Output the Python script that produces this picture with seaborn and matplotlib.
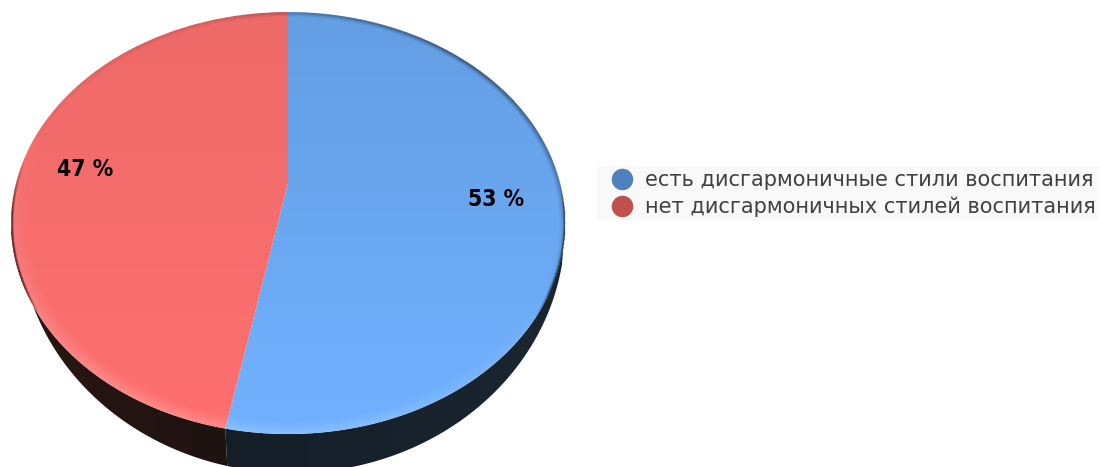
import numpy as np
import matplotlib
matplotlib.use("Agg")
import matplotlib.pyplot as plt
import seaborn as sns
from matplotlib.colors import LinearSegmentedColormap
from matplotlib.lines import Line2D
from matplotlib.patches import Polygon
from matplotlib.transforms import Transform

# Chart content
categories = ["есть дисгармоничные стили воспитания", "нет дисгармоничных стилей воспитания"]
values = [53, 47]
value_labels = ["53 %", "47 %"]
legend_colors = ["#4f81bd", "#c0504d"]
face_top = ["#649ee3", "#ed6a69"]
face_bottom = ["#70b1ff", "#ff7070"]
side_dark = ["#141e28", "#1e1311"]
side_light = ["#1b2631", "#2a1612"]

W, H = 1099, 467
CX, CY, RX, RY = 288.0, 223.0, 277.0, 211.0
TILT = 0.19                       # how far the pie's hub sits above the ellipse centre
BASE = (292.0, 228.0, 273.0, 245.0)   # lower outline of the pie body


def project(xy):
    """Map the unit-circle pie onto its tilted ellipse on the canvas."""
    u, v = xy[:, 0], xy[:, 1]
    w = 1 + TILT * v
    return np.column_stack([
        CX + RX * u * np.sqrt(1 - TILT ** 2) / w,
        CY - RY * (v + TILT) / w,
    ])


class TiltTransform(Transform):
    input_dims = output_dims = 2
    is_affine = False

    def transform_non_affine(self, values):
        return project(np.asarray(values, dtype=float))


sns.set_theme(style="white")
plt.rcParams["font.family"] = ["DejaVu Sans"]

fig = plt.figure(figsize=(W / 100, H / 100), dpi=100, facecolor="white")
ax = fig.add_axes([0, 0, 1, 1])

wedges, _ = ax.pie(values, startangle=90, counterclock=False, radius=1.0)
ax.set_aspect("auto")
ax.set_xlim(0, W)
ax.set_ylim(H, 0)
ax.axis("off")

grad = np.linspace(0, 1, 256)[:, None]
extent = (CX - RX - 2, CX + RX + 2, CY + RY + 2, CY - RY - 2)
horiz = np.linspace(0, 1, 256)[None, :]

for i, wedge in enumerate(wedges):
    # Body of the pie below the arc of this slice
    t = np.radians(np.linspace(wedge.theta1, wedge.theta2, 360))
    arc = project(np.column_stack([np.cos(t), np.sin(t)]))
    low = arc[arc[:, 1] > CY]
    c = np.clip((low[:, 0] - CX) / RX - 0.011, -1, 1)
    lower = np.column_stack([BASE[0] + BASE[2] * c, BASE[1] + BASE[3] * np.sqrt(1 - c ** 2)])
    band = np.vstack([low, lower[::-1]])
    poly = Polygon(band, closed=True, fc="none", ec="none", transform=ax.transData)
    ax.add_patch(poly)
    ramp = [side_light[i], side_dark[i]] if i else [side_dark[i], side_light[i]]
    cmap = LinearSegmentedColormap.from_list(f"side{i}", ramp)
    img = ax.imshow(horiz, cmap=cmap, extent=(band[:, 0].min(), band[:, 0].max(), H + 5, 0),
                    aspect="auto", zorder=1)
    img.set_clip_path(poly)

for i, wedge in enumerate(wedges):
    # Top face of the slice: a vertical colour ramp clipped to the wedge
    wedge.set_transform(TiltTransform() + ax.transData)
    wedge.set_facecolor("none")
    wedge.set_edgecolor("none")
    wedge.set_zorder(2)
    cmap = LinearSegmentedColormap.from_list(f"face{i}", [face_top[i], face_bottom[i]])
    img = ax.imshow(grad, cmap=cmap, extent=extent, aspect="auto", zorder=2)
    img.set_clip_path(wedge)

# Bevel along the edge of the top face: dark and thin above, wide and pale below
yy, xx = np.mgrid[0:H * 2, 0:W * 2]
nx = (xx / 2 - CX) / RX
ny = (yy / 2 - CY) / RY
r = np.hypot(nx, ny)
inside = r <= 1.0
lit = (ny * 0.9 - nx * 0.35 + 0.1) / np.maximum(r, 1e-6)
light_a = np.clip((r - 0.93) / 0.06, 0, 1) ** 1.4 * np.clip(lit, 0, 1) * 0.17
dark_a = (np.clip((r - 0.975) / 0.025, 0, 1) ** 1.5 * np.clip(-lit + 0.15, 0, 1)
          * (0.3 + 0.7 * np.clip(nx + 0.3, 0, 1)) * 0.6)
# Dark line along the two flanks, fading out above and below
flank = (np.clip((r - 0.99) / 0.01, 0, 1)
         * np.clip((ny + 0.3) / 0.25, 0, 1) * np.clip((0.45 - ny) / 0.15, 0, 1) * 0.85)
dark_a = np.maximum(dark_a, flank)
alpha = np.maximum(light_a, dark_a)
rim = np.zeros((H * 2, W * 2, 4))
rim[..., :3] = (light_a > dark_a)[..., None].astype(float)
rim[..., 3] = alpha * inside
ax.imshow(rim, extent=(0, W, H, 0), aspect="auto", zorder=3, interpolation="bilinear")

label_xy = [(496, 199), (85, 170)]
for (x, y), text in zip(label_xy, value_labels):
    ax.text(x, y, text, ha="center", va="center", fontsize=16.5, fontweight="bold",
            family="DejaVu Sans", stretch="condensed", color="black", zorder=5)

handles = [Line2D([], [], ls="none", marker="o", ms=15.5, mfc=c, mec="none") for c in legend_colors]
leg = ax.legend(handles, categories, loc="upper left", bbox_to_anchor=(597, 166),
                bbox_transform=ax.transData, borderaxespad=0, borderpad=0.19,
                fontsize=15, labelspacing=0.33, handlelength=2.02, handletextpad=0.1,
                labelcolor="#404040", facecolor="#f9f9f9", edgecolor="none",
                framealpha=1, fancybox=False)
leg.set_zorder(5)

ax.set_xlim(0, W)
ax.set_ylim(H, 0)
fig.savefig("out.png", dpi=100, facecolor="white")
